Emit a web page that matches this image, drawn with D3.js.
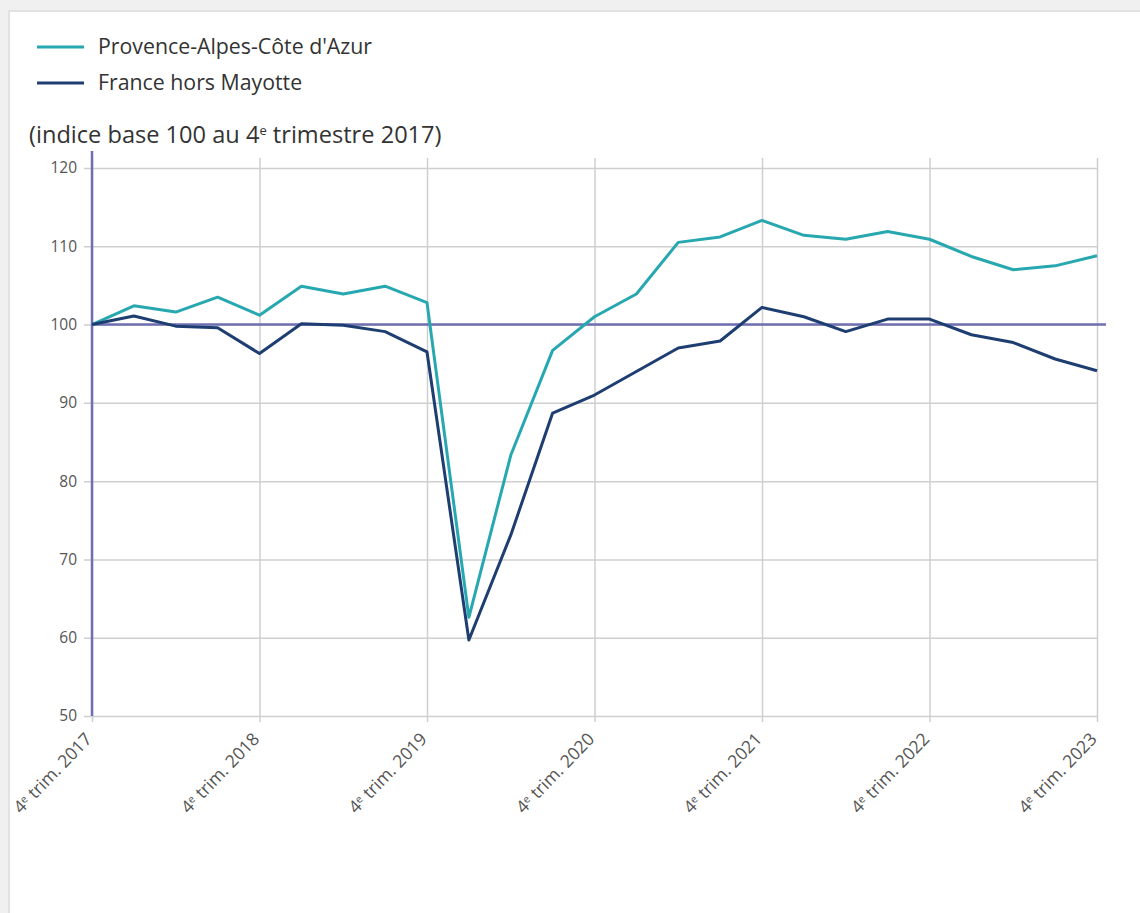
<!DOCTYPE html>
<html>
<head>
<meta charset="utf-8">
<script src="https://cdn.jsdelivr.net/npm/d3@7"></script>
<style>
  html, body { margin: 0; padding: 0; background: #f0f0f0; }
  body { width: 1140px; height: 913px; overflow: hidden; position: relative; font-family: "Open Sans", sans-serif; }
  #card { position: absolute; left: 8px; top: 10px; right: 0; bottom: 0; background: #fff;
          border-top: 2px solid #e2e2e2; border-left: 2px solid #e2e2e2; }
  svg { position: absolute; left: 0; top: 0; }
</style>
</head>
<body>
<div id="card"></div>
<svg id="chart" width="1140" height="913"></svg>
<script>
// quarters: 4e trim. 2017 ... 4e trim. 2023
const years = [2017, 2018, 2019, 2020, 2021, 2022, 2023];
const seriesNames = ["Provence-Alpes-Côte d'Azur", "France hors Mayotte"];
const paca = [100, 102.4, 101.6, 103.5, 101.2, 104.9, 103.9, 104.9, 102.8,
  62.6, 83.3, 96.7, 101.0, 103.9, 110.5, 111.2, 113.3, 111.4, 110.9, 111.9,
  110.9, 108.7, 107.0, 107.5, 108.8];
const france = [100, 101.1, 99.8, 99.6, 96.3, 100.1, 99.9, 99.1, 96.5,
  59.7, 73.1, 88.7, 91.0, 94.0, 97.0, 97.9, 102.2, 101.0, 99.1, 100.7,
  100.7, 98.7, 97.7, 95.6, 94.1];
const yTicks = [50, 60, 70, 80, 90, 100, 110, 120];

const colors = ["#27a8b1", "#1e3e72"];
const axisColor = "#6e6eb2";

const svg = d3.select("#chart");
const x = d3.scaleLinear().domain([0, paca.length - 1]).range([92, 1097]);
const y = d3.scaleLinear().domain([50, 120]).range([716, 168]);

// legend
const legend = svg.append("g");
seriesNames.forEach((name, i) => {
  const ly = 47 + i * 36;
  legend.append("line")
    .attr("x1", 37).attr("x2", 84).attr("y1", ly).attr("y2", ly)
    .attr("stroke", colors[i]).attr("stroke-width", 3);
  legend.append("text")
    .attr("x", 98).attr("y", ly + 7)
    .attr("font-size", 21.3).attr("fill", "#333")
    .text(name);
});

// subtitle
const sub = svg.append("text")
  .attr("x", 29).attr("y", 143)
  .attr("font-size", 23.6).attr("fill", "#333");
sub.append("tspan").text("(indice base 100 au 4");
sub.append("tspan").attr("font-size", 13).attr("dy", -8).text("e");
sub.append("tspan").attr("dy", 8).text(" trimestre 2017)");

// horizontal grid + y ticks
const yAxis = d3.axisLeft(y).tickValues(yTicks).tickSize(-(1097 - 84)).tickPadding(8);
const gy = svg.append("g").attr("transform", "translate(84,0)").call(yAxis);
gy.select(".domain").remove();
gy.selectAll(".tick line").attr("stroke", "#cfcfcf").attr("stroke-width", 1.5).attr("x1", 0).attr("x2", 1097 - 84);
gy.selectAll(".tick text").attr("font-size", 15.5).attr("fill", "#555")
  .attr("font-family", "Open Sans, sans-serif").attr("x", -7);

// vertical grid + x ticks
const yearIdx = years.map((d, i) => i * 4);
const xAxis = d3.axisBottom(x).tickValues(yearIdx).tickSize(-(722 - 158)).tickFormat(() => "");
const gx = svg.append("g").attr("transform", "translate(0,722)").call(xAxis);
gx.select(".domain").remove();
gx.selectAll(".tick line").attr("stroke", "#cfcfcf").attr("stroke-width", 1.5);

// rotated x labels
yearIdx.forEach((qi, i) => {
  const t = svg.append("text")
    .attr("transform", `translate(${x(qi) + 1},${740}) rotate(-46)`)
    .attr("text-anchor", "end")
    .attr("font-size", 17.5).attr("fill", "#555");
  t.append("tspan").text("4");
  t.append("tspan").attr("font-size", 10.5).attr("dy", -5).text("e");
  t.append("tspan").attr("dy", 5).text(" trim. " + years[i]);
});

// y axis line
svg.append("line")
  .attr("x1", 92).attr("x2", 92).attr("y1", 151).attr("y2", 716)
  .attr("stroke", axisColor).attr("stroke-width", 2.5);

// reference line at 100
svg.append("line")
  .attr("x1", 92).attr("x2", 1106).attr("y1", y(100)).attr("y2", y(100))
  .attr("stroke", axisColor).attr("stroke-width", 2.5);

// series
const line = d3.line().x((d, i) => x(i)).y(d => y(d));
[paca, france].forEach((data, i) => {
  svg.append("path")
    .datum(data)
    .attr("d", line)
    .attr("fill", "none")
    .attr("stroke", colors[i])
    .attr("stroke-width", 3)
    .attr("stroke-linejoin", "round");
});
</script>
</body>
</html>
